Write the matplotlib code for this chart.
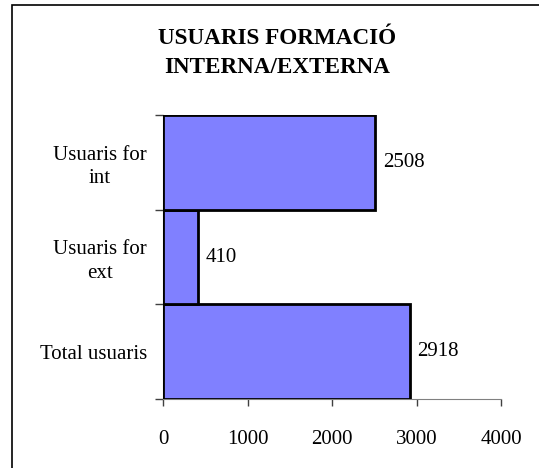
import matplotlib
matplotlib.use('Agg')
import matplotlib.pyplot as plt
import numpy as np
from matplotlib.patches import Rectangle

categories = ['Total usuaris', 'Usuaris for\next', 'Usuaris for\nint']
values = [2918, 410, 2508]
xticks = [0, 1000, 2000, 3000, 4000]

plt.rcParams['font.family'] = ['Liberation Serif', 'DejaVu Serif']

fig = plt.figure(figsize=(5.39, 4.68), dpi=100)
ax = fig.add_axes([163 / 539, 1 - 399 / 468, 338 / 539, 284 / 468])

y = np.arange(len(categories))
ax.barh(y, values, height=1.0, color='#8080FF', edgecolor='black', linewidth=2, zorder=3)

for yi, v in zip(y, values):
    ax.text(v + 95, yi, str(v), va='center', ha='left', fontsize=15)

ax.set_xlim(0, 4000)
ax.set_ylim(-0.5, len(categories) - 0.5)
ax.set_xticks(xticks)
ax.set_xticklabels([str(t) for t in xticks], fontsize=15)
ax.set_yticks(y)
ax.set_yticklabels(categories, fontsize=15, multialignment='center', linespacing=1.3)
ax.set_yticks(np.arange(-0.5, len(categories)), minor=True)

ax.tick_params(axis='y', which='major', length=0, pad=11.5)
ax.tick_params(axis='y', which='minor', length=6, color='#404040', width=1)
ax.tick_params(axis='x', length=5, color='#404040', width=1, pad=17)

for s in ['top', 'right']:
    ax.spines[s].set_visible(False)
ax.spines['bottom'].set_color('#808080')
ax.spines['left'].set_color('#808080')

fig.text(277 / 539, 1 - 53 / 468, 'USUARIS FORMACIÓ\nINTERNA/EXTERNA', ha='center', va='center',
         fontsize=16.7, fontweight='bold', linespacing=1.45)

fig.patches.append(Rectangle((12 / 539, -0.1), 1.2, 1 - 5 / 468 + 0.1, transform=fig.transFigure,
                             fill=False, edgecolor='black', linewidth=1.2))

fig.savefig('out.png', dpi=100)
